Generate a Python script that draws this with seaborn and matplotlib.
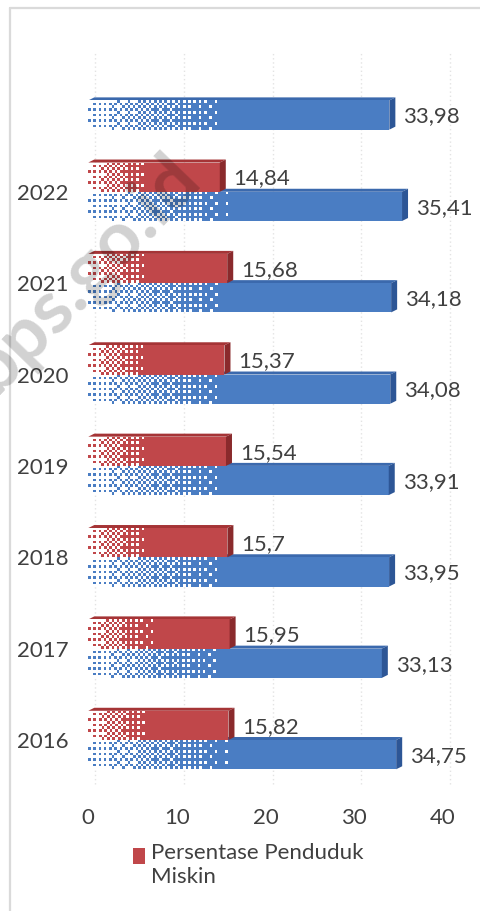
import numpy as np
import pandas as pd
import matplotlib
matplotlib.use("Agg")
import matplotlib.pyplot as plt
import matplotlib.transforms as mtransforms
from matplotlib.patches import Polygon, Rectangle
from matplotlib.lines import Line2D
import seaborn as sns

# ---- data -------------------------------------------------------------
years = ["", "2022", "2021", "2020", "2019", "2018", "2017", "2016"]
poverty_pct = [np.nan, 14.84, 15.68, 15.37, 15.54, 15.70, 15.95, 15.82]
other_series = [33.98, 35.41, 34.18, 34.08, 33.91, 33.95, 33.13, 34.75]
series_names = ["Persentase Penduduk Miskin", "Pembanding"]
xticks = [0, 10, 20, 30, 40]

front = {"Persentase Penduduk Miskin": "#c0474a", "Pembanding": "#4a7dc3"}
side = {"Persentase Penduduk Miskin": "#8a2a2c", "Pembanding": "#2d5696"}
top = {"Persentase Penduduk Miskin": "#a53436", "Pembanding": "#3b69ad"}
text_color = "#404040"
FS = 16

df = pd.DataFrame({
    "Tahun": years * 2,
    "Seri": [series_names[0]] * len(years) + [series_names[1]] * len(years),
    "Nilai": poverty_pct + other_series,
})

sns.set_theme(style="white")
plt.rcParams["font.family"] = ["Lato", "DejaVu Sans"]

W, H = 481, 911
fig = plt.figure(figsize=(W / 100, H / 100), dpi=100)
ax_left, ax_right = 88.3 / W, 442.7 / W
ax_top, ax_bottom = 1 - 54.7 / H, 1 - 785.7 / H
ax = fig.add_axes([ax_left, ax_bottom, ax_right - ax_left, ax_top - ax_bottom])

sns.barplot(data=df, x="Nilai", y="Tahun", hue="Seri", order=years,
            hue_order=series_names, palette=front, orient="h",
            width=0.64, errorbar=None, ax=ax, legend=False,
            linewidth=0, saturation=1)

ax.set_xlim(0, 40)
ax.set_ylim(len(years) - 0.5, -0.5)
ax.set_xticks(xticks)
ax.set_xticklabels([str(t) for t in xticks])
ax.set_yticks(range(len(years)))
ax.set_yticklabels(years)
ax.set_xlabel("")
ax.set_ylabel("")
for s in ax.spines.values():
    s.set_visible(False)
ax.tick_params(axis="both", length=0, labelsize=FS, colors=text_color)
ax.tick_params(axis="x", pad=16)
ax.tick_params(axis="y", pad=14)

# faint gridlines on the back wall (shifted by the depth of the bars)
shift = mtransforms.ScaledTranslation(7 / 100, 2 / 100, fig.dpi_scale_trans)
for t in xticks:
    ax.plot([t, t], [0, 1], color="#e3e3e3", lw=1.0, ls=(0, (1, 2)), zorder=0,
            transform=ax.get_xaxis_transform() + shift, clip_on=False)

# ordered dither pattern for the faded left part of each bar
bayer = np.array([[0, 8, 2, 10], [12, 4, 14, 6],
                  [3, 11, 1, 9], [15, 7, 13, 5]]) / 16.0 + 1 / 32


def dither_overlay(patch, fade_frac=0.48, cell_px=2.6):
    x0, y0 = patch.get_x(), patch.get_y()
    w, h = patch.get_width(), patch.get_height()
    fade = w * fade_frac
    p0 = ax.transData.transform((x0, y0))
    p1 = ax.transData.transform((x0 + fade, y0 + h))
    ncols = max(int(abs(p1[0] - p0[0]) / cell_px), 2)
    nrows = max(int(abs(p1[1] - p0[1]) / cell_px), 2)
    g = np.linspace(0.82, 0.0, ncols)[None, :].repeat(nrows, axis=0)
    thr = np.tile(bayer, (nrows // 4 + 1, ncols // 4 + 1))[:nrows, :ncols]
    mask = g > thr
    img = np.zeros((nrows, ncols, 4))
    img[..., :3] = 1.0
    img[..., 3] = mask.astype(float)
    im = ax.imshow(img, extent=(x0, x0 + fade, y0 + h, y0),
                   interpolation="nearest", aspect="auto", zorder=3)
    im.set_clip_path(patch)


def px_to_dx(px):
    inv = ax.transData.inverted()
    return inv.transform((px, 0))[0] - inv.transform((0, 0))[0]


def px_to_dy(px):
    inv = ax.transData.inverted()
    return inv.transform((0, px))[1] - inv.transform((0, 0))[1]


fig.canvas.draw()
dx = px_to_dx(6)
dy = px_to_dy(3)

for name, cont in zip(series_names, ax.containers):
    for patch in cont.patches:
        w = patch.get_width()
        if not np.isfinite(w) or w <= 0:
            continue
        patch.set_zorder(2)
        dither_overlay(patch)
        x0, y0, h = patch.get_x(), patch.get_y(), patch.get_height()
        x1 = x0 + w
        yt, yb = y0, y0 + h
        # top face
        ax.add_patch(Polygon([(x0, yt), (x0 + dx, yt + dy), (x1 + dx, yt + dy), (x1, yt)],
                             closed=True, facecolor=top[name], edgecolor="none", zorder=1.9))
        # right side face
        ax.add_patch(Polygon([(x1, yt), (x1 + dx, yt + dy), (x1 + dx, yb + dy), (x1, yb)],
                             closed=True, facecolor=side[name], edgecolor="none", zorder=2.5))
        label = f"{w:g}".replace(".", ",")
        ax.annotate(label, (x1, y0 + h / 2), xytext=(10, -1), textcoords="offset points",
                    va="center", ha="left", fontsize=FS, color=text_color, zorder=5)

ax.set_xlim(0, 40)
ax.set_ylim(len(years) - 0.5, -0.5)

# legend below the plot (only the first series), swatch aligned to the first line
fig.add_artist(Rectangle((133 / W, 1 - 864 / H), 12 / W, 16 / H, transform=fig.transFigure,
                         facecolor=front[series_names[0]], edgecolor="none"))
fig.text(151 / W, 1 - 843 / H, "Persentase Penduduk\nMiskin", fontsize=FS,
         color=text_color, ha="left", va="top", linespacing=1.26,
         transform=fig.transFigure)

# faint watermark across the chart
fig.text(84 / W, 1 - 274 / H, "bps.go.id", rotation=46, fontsize=54, fontweight="bold",
         color="black", alpha=0.18, ha="center", va="center", zorder=10,
         rotation_mode="anchor")

# thin frame lines at top and left of the figure
fig.add_artist(Line2D([10 / W, 10 / W], [0, 1 - 8 / H], transform=fig.transFigure,
                      color="#dadada", lw=1.6))
fig.add_artist(Line2D([10 / W, 1], [1 - 8 / H, 1 - 8 / H], transform=fig.transFigure,
                      color="#dadada", lw=1.6))

fig.savefig("out.png", dpi=100)
